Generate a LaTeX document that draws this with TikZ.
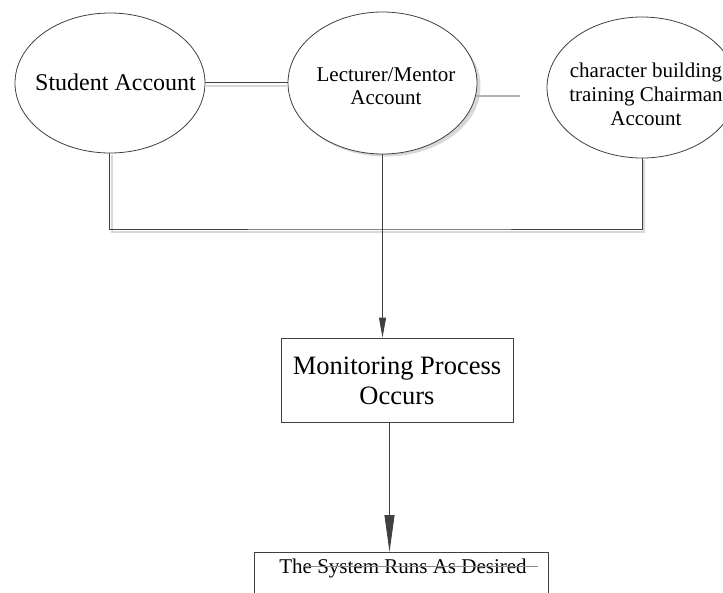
\documentclass[tikz,border=0pt]{standalone}
\usepackage{fontspec}
\setmainfont{Liberation Serif}
\usetikzlibrary{shapes.geometric,arrows.meta,calc}
\definecolor{linec}{HTML}{404040}
\definecolor{shadec}{HTML}{D8D8D8}
\begin{document}
\begin{tikzpicture}[x=1pt,y=-1pt,
  acct/.style={ellipse,draw=linec,line width=0.8pt,fill=white,minimum width=190pt,minimum height=140pt,inner sep=0pt},
  acctshadow/.style={ellipse,fill=shadec,minimum width=190pt,minimum height=140pt,inner sep=0pt},
  conn/.style={draw=linec,line width=0.8pt},
  shadowline/.style={draw=shadec,line width=1.2pt},
  grayline/.style={draw=black!30,line width=1.3pt},
  procbox/.style={rectangle,draw=linec,line width=0.8pt,inner sep=0pt},
  txt/.style={inner sep=0pt,align=center,text=black}]
\useasboundingbox (0,0) rectangle (723,592);

% ellipses
\node[acctshadow] (lecsh) at (385.5,86.5) {};
\node[acct] (stu) at (110,83) {};
\node[acct,minimum width=189pt,minimum height=142pt] (lec) at (382.5,83) {};
\node[acct,minimum height=141pt] (ch) at (642,87.5) {};

\node[txt,font=\fontsize{24}{28}\selectfont] (stut) at (115.5,82.5) {Student Account};
\node[txt,font=\fontsize{21}{23}\selectfont] (lect) at (386,86.5) {Lecturer/Mentor\\Account};
\node[txt,font=\fontsize{21}{24}\selectfont] (cht) at (646,94.5) {character building\\training Chairman\\Account};

% connectors between ellipses
\draw[shadowline] ($(stu.east)+(0,3)$) -- ($(lec.west)+(0,3)$);
\draw[conn] ($(stu.east)+(0,-1)$) -- ($(lec.west)+(0,-1)$);
\coordinate (g2) at (520,96);
\draw[grayline] (lec.-8) -- (lec.-8 -| g2);

% joining line
\coordinate (join) at (383,229);
\draw[shadowline] ($(stu.south)+(2,2)$) |- ($(join)+(0,3)$) -| ($(ch.south)+(2,2)$);
\draw[conn] ($(stu.south)+(-1,0)$) |- (join) -| (ch.south);

% process box
\node[procbox,minimum width=232pt,minimum height=84pt] (mon) at (397,380) {};
\node[txt,font=\fontsize{26.5}{30}\selectfont] (mont) at (397,381) {Monitoring Process\\Occurs};

\draw[conn,-{Triangle[length=20pt,width=7pt]}] (lec.south) -- (lec.south |- mon.north);

% bottom box
\node[procbox,minimum width=294pt,minimum height=80pt,anchor=north] (sys) at (401,552) {};
\node[txt,font=\fontsize{21}{24}\selectfont] (syst) at (403,568) {The System Runs As Desired};
\coordinate (s1) at (303,566);
\coordinate (s2) at (538,566);
\draw[draw=black!45,line width=0.7pt] (s1) -- (s2);

\coordinate (a2s) at ($(mon.south)+(-7.5,0)$);
\draw[conn,-{Triangle[length=37pt,width=10pt]}] (a2s) -- (a2s |- sys.north);
\end{tikzpicture}
\end{document}
